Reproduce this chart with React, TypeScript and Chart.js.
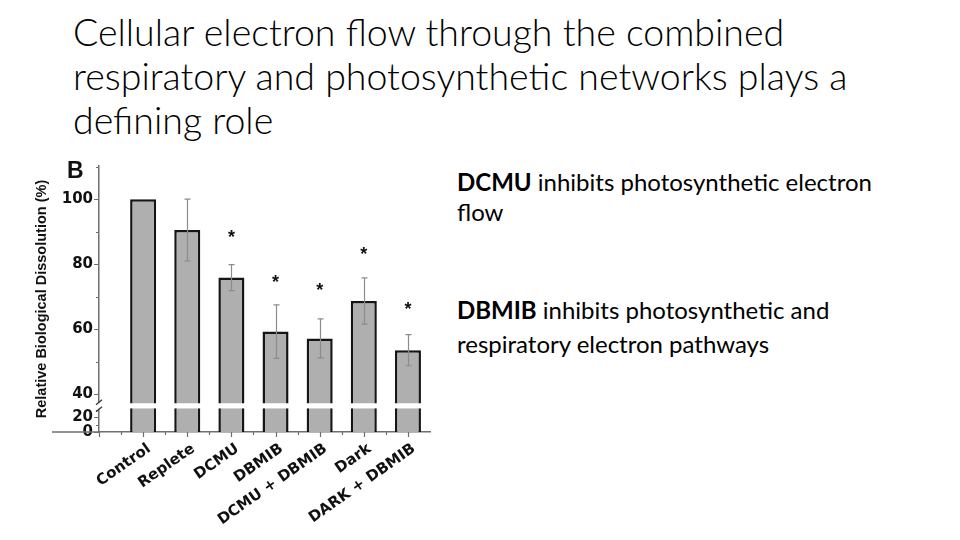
import React, { useEffect, useRef } from 'react';
import { Chart, registerables } from 'chart.js';

Chart.register(...registerables);

// ---- data ----
const categories = ['Control', 'Replete', 'DCMU', 'DBMIB', 'DCMU + DBMIB', 'Dark', 'DARK + DBMIB'];
const dissolution = [100, 90.5, 75.9, 59.3, 57.2, 68.7, 53.6];
const errorSizes = [0, 9.5, 4.0, 8.2, 6.0, 7.1, 4.8];
const asteriskAt = [null, null, 89.5, 75.8, 73.3, 84.4, 67.5];
const upperLabels = [40, 60, 80, 100];
const lowerLabels = [0, 20];
const upperRange = [36.5, 110.2];
const lowerRange = [0, 35];
const upperBase = 37.2;
const lowerTop = 31.6;

const AXIS_COLOR = '#6f6f6f';
const TICK_FONT = { family: '"DejaVu Sans", sans-serif', weight: 'bold' as const, size: 15 };

const decorations = {
  id: 'decorations',
  afterDatasetsDraw(chart: any) {
    const { ctx, scales } = chart;
    const x = scales.x;
    const y = scales.yUpper;
    ctx.save();
    ctx.strokeStyle = '#8c8c8c';
    ctx.lineWidth = 1.2;
    dissolution.forEach((v, i) => {
      const e = errorSizes[i];
      if (!e) return;
      const px = Math.round(x.getPixelForValue(i)) + 0.5;
      const top = y.getPixelForValue(v + e);
      const bot = y.getPixelForValue(v - e);
      ctx.beginPath();
      ctx.moveTo(px, top);
      ctx.lineTo(px, bot);
      ctx.moveTo(px - 3, top);
      ctx.lineTo(px + 3, top);
      ctx.moveTo(px - 3, bot);
      ctx.lineTo(px + 3, bot);
      ctx.stroke();
    });
    ctx.fillStyle = '#111';
    ctx.font = 'bold 18px "Liberation Sans", Arial, sans-serif';
    ctx.textAlign = 'center';
    ctx.textBaseline = 'alphabetic';
    asteriskAt.forEach((s, i) => {
      if (s == null) return;
      const px = x.getPixelForValue(i);
      const py = y.getPixelForValue(s);
      ctx.fillText('*', px, py + 0.55 * 18);
    });
    ctx.restore();
  },
  afterDraw(chart: any) {
    const { ctx, chartArea, scales } = chart;
    const x = scales.x;
    const yu = scales.yUpper;
    const yl = scales.yLower;
    ctx.save();
    ctx.strokeStyle = AXIS_COLOR;
    ctx.lineWidth = 1.5;
    ctx.beginPath();
    ctx.moveTo(chartArea.left - 47, chartArea.bottom);
    ctx.lineTo(chartArea.left, chartArea.bottom);
    ctx.stroke();
    ctx.lineWidth = 1.2;
    ctx.beginPath();
    x.ticks.forEach((t: any) => {
      const px = Math.round(x.getPixelForValue(t.value)) + 0.5;
      ctx.moveTo(px, chartArea.bottom);
      ctx.lineTo(px, chartArea.bottom + 5);
    });
    for (let v = x.min + 0.5; v < x.max; v += 1) {
      const px = Math.round(x.getPixelForValue(v)) + 0.5;
      ctx.moveTo(px, chartArea.bottom);
      ctx.lineTo(px, chartArea.bottom + 3);
    }
    ctx.stroke();
    const yTicks = (scale: any, labels: number[]) => {
      ctx.beginPath();
      scale.ticks.forEach((t: any) => {
        if (t.value < scale.min || t.value > scale.max) return;
        const py = Math.round(scale.getPixelForValue(t.value)) + 0.5;
        const len = labels.includes(t.value) ? 5 : 3;
        ctx.moveTo(chartArea.left, py);
        ctx.lineTo(chartArea.left - len, py);
      });
      ctx.stroke();
    };
    yTicks(yu, upperLabels);
    yTicks(yl, lowerLabels);
    // axis break
    const gapTop = yu.bottom - 4;
    const gapBot = yl.top + 4;
    ctx.fillStyle = '#fff';
    ctx.fillRect(chartArea.left - 3, gapTop + 1, 6, gapBot - gapTop - 2);
    ctx.strokeStyle = '#333';
    ctx.lineWidth = 1.2;
    ctx.beginPath();
    ctx.moveTo(chartArea.left - 3, gapTop + 3);
    ctx.lineTo(chartArea.left + 3, gapTop - 2);
    ctx.moveTo(chartArea.left - 3, gapBot + 2);
    ctx.lineTo(chartArea.left + 3, gapBot - 3);
    ctx.stroke();
    // y-axis title
    ctx.fillStyle = '#111';
    ctx.font = 'bold 14.5px "Liberation Sans", Arial, sans-serif';
    ctx.textAlign = 'center';
    ctx.textBaseline = 'middle';
    ctx.translate(chartArea.left - 57, (chartArea.top + chartArea.bottom) / 2);
    ctx.rotate(-Math.PI / 2);
    ctx.fillText('Relative Biological Dissolution (%)', 0, 0);
    ctx.restore();
    // panel letter
    ctx.save();
    ctx.fillStyle = '#111';
    ctx.font = 'bold 23px "Liberation Sans", Arial, sans-serif';
    ctx.textAlign = 'left';
    ctx.textBaseline = 'alphabetic';
    ctx.fillText('B', chartArea.left - 32, chartArea.top + 12);
    ctx.restore();
  },
};

function BarChart() {
  const ref = useRef<HTMLCanvasElement>(null);
  useEffect(() => {
    if (!ref.current) return;
    const chart = new Chart(ref.current, {
      type: 'bar',
      data: {
        datasets: [
          {
            label: 'upper',
            yAxisID: 'yUpper',
            data: dissolution.map((v, i) => ({ x: i, y: v })),
            base: upperBase,
            backgroundColor: '#afafaf',
            borderColor: '#151515',
            borderWidth: 2.5,
            borderSkipped: 'start',
            grouped: false,
            barPercentage: 0.59,
            categoryPercentage: 1,
          } as any,
          {
            label: 'lower',
            yAxisID: 'yLower',
            data: dissolution.map((v, i) => ({ x: i, y: Math.min(v, lowerTop) })),
            backgroundColor: '#afafaf',
            borderColor: '#151515',
            borderWidth: { left: 2.5, right: 2.5, top: 0, bottom: 0 },
            borderSkipped: false,
            grouped: false,
            barPercentage: 0.59,
            categoryPercentage: 1,
          } as any,
        ],
      },
      options: {
        animation: false,
        responsive: false,
        devicePixelRatio: 1,
        layout: { padding: { left: 29, top: 16, right: 15, bottom: 3 } },
        plugins: { legend: { display: false }, tooltip: { enabled: false } },
        scales: {
          x: {
            type: 'linear',
            offset: false,
            min: -1,
            max: 6.5,
            grid: { display: false, drawTicks: false, offset: false },
            border: { display: true, color: AXIS_COLOR, width: 1.5 },
            ticks: {
              stepSize: 1,
              includeBounds: false,
              autoSkip: false,
              minRotation: 35,
              maxRotation: 35,
              padding: 8,
              labelOffset: 6,
              color: '#111',
              font: { ...TICK_FONT, size: 15 },
              callback: (v: any) => (Number.isInteger(v) && categories[v] ? categories[v] : ''),
            },
            afterFit: (s: any) => {
              s.height = 100;
              s.paddingLeft = 0;
              s.paddingRight = 0;
            },
          },
          yLower: {
            type: 'linear',
            position: 'left',
            stack: 'yaxis',
            stackWeight: 1,
            min: lowerRange[0],
            max: lowerRange[1],
            grid: { display: false, drawTicks: false },
            border: { display: true, color: AXIS_COLOR, width: 1.5 },
            ticks: {
              stepSize: 10,
              includeBounds: false,
              autoSkip: false,
              padding: 6,
              color: '#111',
              font: TICK_FONT,
              callback: (v: any) => (lowerLabels.includes(v) ? String(v) : ''),
            },
            afterFit: (s: any) => {
              s.width = 40;
            },
          },
          yUpper: {
            type: 'linear',
            position: 'left',
            stack: 'yaxis',
            stackWeight: 9.15,
            min: upperRange[0],
            max: upperRange[1],
            grid: { display: false, drawTicks: false },
            border: { display: true, color: AXIS_COLOR, width: 1.5 },
            ticks: {
              stepSize: 10,
              includeBounds: false,
              autoSkip: false,
              padding: 6,
              color: '#111',
              font: TICK_FONT,
              callback: (v: any) => (upperLabels.includes(v) ? String(v) : ''),
            },
            afterFit: (s: any) => {
              s.width = 40;
            },
          },
        },
      },
      plugins: [decorations],
    });
    return () => chart.destroy();
  }, []);
  return <canvas ref={ref} width={415} height={385} style={{ width: 415, height: 385, display: 'block' }} />;
}

export default function App() {
  return (
    <div
      style={{
        position: 'absolute',
        left: 0,
        top: 0,
        width: 960,
        height: 540,
        background: '#fff',
        overflow: 'hidden',
        fontFamily: 'Lato, "Open Sans", sans-serif',
        color: '#000',
      }}
    >
      <div
        style={{
          position: 'absolute',
          left: 73,
          top: 9.5,
          whiteSpace: 'nowrap',
          fontSize: 37.5,
          lineHeight: '44px',
          fontWeight: 300,
        }}
      >
        Cellular electron flow through the combined
        <br />
        respiratory and photosynthetic networks plays a
        <br />
        defining role
      </div>
      <div style={{ position: 'absolute', left: 30, top: 150 }}>
        <BarChart />
      </div>
      <div style={{ position: 'absolute', left: 457, top: 167, whiteSpace: 'nowrap', fontSize: 24, lineHeight: '30px' }}>
        <span style={{ fontWeight: 700 }}>DCMU</span> inhibits photosynthetic electron
        <br />
        flow
      </div>
      <div style={{ position: 'absolute', left: 457, top: 292.7, whiteSpace: 'nowrap', fontSize: 24, lineHeight: '34.7px' }}>
        <span style={{ fontWeight: 700 }}>DBMIB</span> inhibits photosynthetic and
        <br />
        respiratory electron pathways
      </div>
    </div>
  );
}
